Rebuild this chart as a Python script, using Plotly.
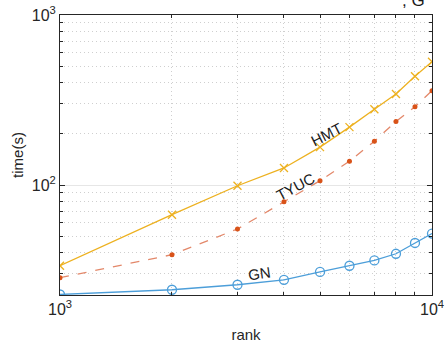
import math
import plotly.graph_objects as go

rank = [1000, 2000, 3000, 4000, 5000, 6000, 7000, 8000, 9000, 10000]
gn = [22.7, 24.2, 25.9, 27.7, 30.8, 33.5, 36.0, 39.4, 45.6, 51.8]
tyuc = [28.5, 38.9, 55.1, 79.7, 106, 138, 181, 236, 289, 359]
hmt = [33.5, 66.9, 99, 126, 167, 219, 279, 343, 436, 531]

labels = ["HMT", "TYUC", "GN"]
label_x = [5190, 4300, 3430]
label_y = [199, 98, 30.3]
label_angle = [-27, -28, -8]

FONT = "Liberation Sans, Arial, Helvetica, sans-serif"
fig = go.Figure()
fig.add_trace(go.Scatter(x=rank, y=hmt, mode="lines+markers", name="HMT",
                         line=dict(color="#EDB120", width=1.3),
                         marker=dict(symbol="x-thin-open", size=8, line=dict(color="#EDB120", width=1.3))))
fig.add_trace(go.Scatter(x=rank, y=tyuc, mode="lines+markers", name="TYUC",
                         line=dict(color="#E3886A", width=1.3, dash="dash"),
                         marker=dict(symbol="circle", size=5, color="#D95319")))
fig.add_trace(go.Scatter(x=rank, y=gn, mode="lines+markers", name="GN",
                         line=dict(color="#4C9ED9", width=1.3),
                         marker=dict(symbol="circle-open", size=9, line=dict(color="#0072BD", width=1.3))))

for t, x, y, a in zip(labels, label_x, label_y, label_angle):
    fig.add_annotation(x=math.log10(x), y=math.log10(y), text=t, showarrow=False,
                       textangle=a, font=dict(family=FONT, size=15, color="#1a1a1a"))

# partially visible (cut off) title fragment at the top edge
fig.add_annotation(xref="paper", yref="paper", x=0.915, y=1.012, xanchor="left", yanchor="bottom",
                   text=", G", showarrow=False, font=dict(family=FONT, size=17, color="#1a1a1a"))

minor_x = [2000, 3000, 4000, 5000, 6000, 7000, 8000, 9000]
minor_y = [30, 40, 50, 60, 70, 80, 90, 200, 300, 400, 500, 600, 700, 800, 900]

axis_common = dict(type="log", showline=True, linecolor="#262626", linewidth=1, mirror="allticks",
                   ticks="inside", ticklen=5, tickcolor="#262626", automargin=False,
                   showgrid=True, gridcolor="#e6e6e6", gridwidth=1, zeroline=False,
                   tickfont=dict(family=FONT, size=16, color="#262626"))

fig.update_xaxes(**axis_common, range=[3, 4], tickvals=[1000, 10000],
                 ticktext=["10<sup>3</sup>", "10<sup>4</sup>"],
                 minor=dict(tickvals=minor_x, showgrid=True, gridcolor="#cfcfcf", griddash="1px,3px",
                            ticks="inside", ticklen=3, tickcolor="#262626"),
                 title=dict(text="rank", font=dict(family=FONT, size=15, color="#262626"), standoff=12))
fig.update_yaxes(**axis_common, range=[1.353, 3], tickvals=[100, 1000],
                 ticktext=["10<sup>2</sup>", "10<sup>3</sup>"],
                 minor=dict(tickvals=minor_y, showgrid=True, gridcolor="#cfcfcf", griddash="1px,3px",
                            ticks="inside", ticklen=3, tickcolor="#262626"),
                 title=dict(text="time(s)", font=dict(family=FONT, size=15, color="#262626"), standoff=4))

fig.update_layout(width=445, height=346, margin=dict(l=60, r=13, t=15, b=51),
                  plot_bgcolor="white", paper_bgcolor="white", showlegend=False)
fig.write_html("out.html", config={"displayModeBar": False},
               post_script="document.body.style.margin='0';")
